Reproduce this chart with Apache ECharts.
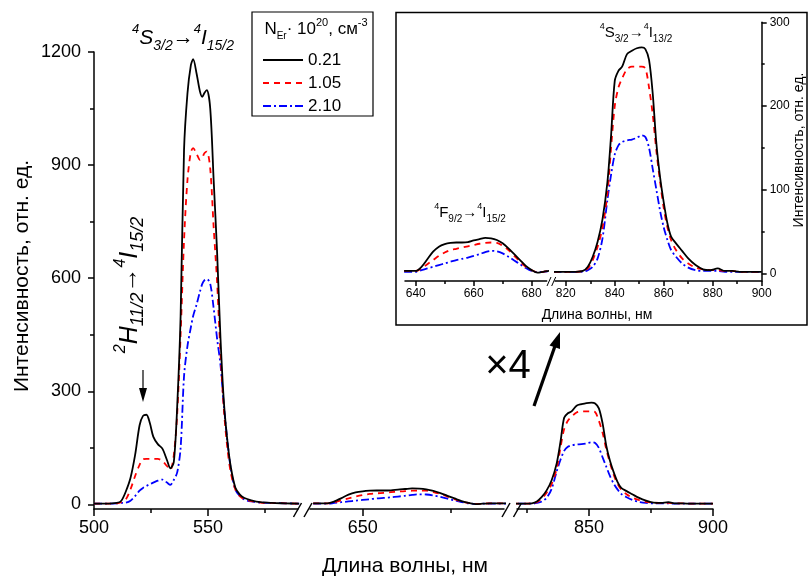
<!DOCTYPE html>
<html lang="ru">
<head>
<meta charset="UTF-8">
<title>Спектры люминесценции Er</title>
<script src="https://cdn.jsdelivr.net/npm/echarts@6.0.0/dist/echarts.min.js"></script>
<style>
    html, body { margin: 0; padding: 0; background: #fff; }
    #main { width: 810px; height: 582px; }
</style>
</head>
<body>
<div id="main"></div>
<script>
    // концентрации Er, 10^20 см^-3
    var seriesNames = ['0.21', '1.05', '2.10'];

    // участок 500-590 нм
    var wlA = [500, 505, 510, 512, 514, 516, 518, 520, 521.5, 523, 524.5, 526, 528, 530, 532, 533.5, 535, 536.5, 538, 539.5,
        541, 542.5, 543.5, 545, 546.5, 547.5, 548.5, 549.5, 551, 552.5, 554, 555.5, 557, 558.5, 560, 562, 564, 566, 569, 573, 578, 584, 590];
    var blackA = [2, 2, 4, 10, 35, 70, 130, 210, 235, 238, 216, 180, 160, 148, 118, 96, 112, 260, 500, 940,
        1090, 1165, 1181, 1143, 1095, 1081, 1092, 1099, 1050, 860, 670, 440, 270, 170, 100, 45, 26, 17, 11, 6, 4, 3, 2];
    var redA = [2, 2, 3, 6, 14, 40, 75, 105, 120, 121, 121, 121, 121, 115, 102, 92, 130, 240, 450, 700,
        860, 935, 945, 930, 914, 920, 932, 936, 890, 735, 590, 400, 250, 150, 85, 40, 22, 14, 9, 5, 4, 3, 2];
    var blueA = [2, 2, 3, 4, 5, 10, 22, 37, 44, 49, 54, 58, 63, 66, 58, 52, 65, 85, 150, 340,
        420, 470, 500, 530, 565, 585, 595, 598, 585, 520, 440, 370, 260, 170, 95, 40, 22, 13, 8, 5, 4, 3, 2];

    // участок 636-692 нм (4F9/2 -> 4I15/2)
    var wlB = [636, 638, 640, 642, 644, 646, 648, 650, 652, 654, 656, 658, 660, 662, 664, 666, 668, 670, 672, 674,
        676, 678, 680, 682, 684, 686, 688, 690, 692];
    var blackB = [3, 3, 3, 8, 17, 26, 32, 35, 36.5, 37, 37, 37.5, 39.5, 41, 42.5, 42, 40, 36, 30, 23,
        16, 9, 4, 1, 2, 3, 3, 3, 3];
    var redB = [3, 3, 3, 6, 11, 16, 21, 25, 28, 29.5, 31, 32.5, 34, 35.5, 36.5, 37, 36.5, 33, 28, 21,
        14, 8, 4, 1.5, 2, 3, 3, 3, 3];
    var blueB = [2, 2, 2, 4, 6, 8, 10, 12, 14, 16, 17.5, 19, 21, 23, 25.5, 27, 26.5, 24, 20, 15.5,
        11, 6.5, 3, 1.5, 2, 2.5, 2.5, 2.5, 2.5];

    // участок 815-900 нм (4S3/2 -> 4I13/2)
    var wlC = [815, 818, 821, 824, 827, 829, 831, 833, 835, 837, 838.5, 840, 841.5, 843, 845, 847, 849, 851, 852.5, 854,
        855.5, 857, 858.5, 860, 861.5, 863, 865, 867.5, 870, 873, 876, 879, 882, 885, 888, 891, 895, 900];
    var blackC = [2, 2, 2, 2, 3, 8, 20, 38, 65, 109, 165, 230, 242, 247, 262, 266, 269, 270, 268, 255,
        215, 155, 115, 85, 60, 44, 36, 27, 18, 10, 5, 4, 6, 3, 3, 2, 2, 2];
    var redC = [2, 2, 2, 2, 3, 6, 16, 32, 55, 95, 150, 200, 222, 233, 244, 247, 247, 247, 245, 222,
        190, 146, 110, 78, 55, 40, 28, 18, 12, 7, 5, 4, 4, 3, 3, 2, 2, 2];
    var blueC = [2, 2, 2, 2, 2, 4, 8, 18, 42, 88, 118, 142, 153, 157, 159, 160, 162, 165, 163, 150,
        125, 100, 75, 55, 40, 28, 20, 12, 7, 4, 3, 3, 3, 2, 2, 2, 2, 2];

    // подписи осей
    var mainYLabels = [0, 300, 600, 900, 1200];
    var mainYMinor = [150, 450, 750, 1050];
    var mainXLabelsA = [500, 550];
    var mainXMinorA = [525, 575];
    var mainXLabelsB = [650];
    var mainXMinorB = [675];
    var mainXLabelsC = [850, 900];
    var mainXMinorC = [825, 875];
    var insetYLabels = [0, 100, 200, 300];
    var insetYMinor = [50, 150, 250];
    var insetXLabelsB = [640, 660, 680];
    var insetXMinorB = [650, 670];
    var insetXLabelsC = [820, 840, 860, 880, 900];
    var insetXMinorC = [830, 850, 870, 890];

    var font = 'Liberation Sans, Arial, sans-serif';

    var myChart = echarts.init(document.getElementById('main'));

    function pairs(xs, ys) {
        return xs.map(function (x, i) { return [x, ys[i]]; });
    }

    function plain(v) {
        return String(v);
    }

    var lineStyles = [
        {color: '#000000', width: 1.8, type: 'solid'},
        {color: '#ff0000', width: 1.8, type: [6, 5]},
        {color: '#0000ff', width: 1.8, type: [8, 3, 2, 3]}
    ];

    function xAx(grid, min, max, vals, len, fs, showLine) {
        return {
            type: 'value', gridIndex: grid, min: min, max: max, position: 'bottom',
            axisLine: {show: showLine, onZero: false, lineStyle: {color: '#000', width: 1.5}},
            axisTick: {show: true, length: len, customValues: vals, lineStyle: {color: '#000', width: 1.5}},
            axisLabel: {show: showLine, customValues: vals, formatter: plain, color: '#000', fontSize: fs, fontFamily: font, margin: fs > 14 ? 10 : 7},
            splitLine: {show: false}
        };
    }

    function yAx(grid, min, max, vals, len, fs, showLine, pos, show) {
        return {
            type: 'value', gridIndex: grid, min: min, max: max, position: pos, show: show,
            axisLine: {show: showLine, onZero: false, lineStyle: {color: '#000', width: 1.5}},
            axisTick: {show: true, length: len, customValues: vals, lineStyle: {color: '#000', width: 1.5}},
            axisLabel: {show: showLine, customValues: vals, formatter: plain, color: '#000', fontSize: fs, fontFamily: font, margin: fs > 14 ? 13 : 8},
            splitLine: {show: false}
        };
    }

    var xAxes = [
        xAx(0, 500, 589.5, mainXLabelsA, 7, 18, true),
        xAx(0, 500, 589.5, mainXMinorA, 4, 18, false),
        xAx(1, 635.1, 690, mainXLabelsB, 7, 18, true),
        xAx(1, 635.1, 690, mainXMinorB, 4, 18, false),
        xAx(2, 821, 900, mainXLabelsC, 7, 18, true),
        xAx(2, 821, 900, mainXMinorC, 4, 18, false),
        xAx(3, 636.3, 685.2, insetXLabelsB, 5, 12, true),
        xAx(3, 636.3, 685.2, insetXMinorB, 3, 12, false),
        xAx(4, 815.6, 900, insetXLabelsC, 5, 12, true),
        xAx(4, 815.6, 900, insetXMinorC, 3, 12, false)
    ];

    var yAxes = [
        yAx(0, -12, 1200, mainYLabels, 6, 18, true, 'left', true),
        yAx(0, -12, 1200, mainYMinor, 4, 18, false, 'left', true),
        yAx(1, -12, 1200, [], 0, 18, false, 'left', false),
        yAx(2, -12, 1200, [], 0, 18, false, 'left', false),
        yAx(3, -9, 300, [], 0, 12, false, 'left', false),
        yAx(4, -9, 300, insetYLabels, 5, 12, true, 'right', true),
        yAx(4, -9, 300, insetYMinor, 3, 12, false, 'right', true)
    ];

    var groups = [
        {x: 0, y: 0, wl: wlA, data: [blackA, redA, blueA]},
        {x: 2, y: 2, wl: wlB, data: [blackB, redB, blueB]},
        {x: 4, y: 3, wl: wlC, data: [blackC, redC, blueC]},
        {x: 6, y: 4, wl: wlB, data: [blackB, redB, blueB]},
        {x: 8, y: 5, wl: wlC, data: [blackC, redC, blueC]}
    ];

    var series = [];
    groups.forEach(function (g) {
        g.data.forEach(function (ys, k) {
            series.push({
                name: seriesNames[k],
                type: 'line',
                xAxisIndex: g.x,
                yAxisIndex: g.y,
                data: pairs(g.wl, ys),
                symbol: 'none',
                smooth: 0.3,
                lineStyle: lineStyles[k],
                itemStyle: {color: lineStyles[k].color},
                z: 3 - k
            });
        });
    });

    // подписи с индексами
    var richMain = {
        m: {fontSize: 21, fontStyle: 'italic', fontFamily: font, lineHeight: 30, fill: '#000'},
        a: {fontSize: 21, fontFamily: font, lineHeight: 30, fill: '#000'},
        sup: {fontSize: 13, fontStyle: 'italic', fontFamily: font, lineHeight: 14, verticalAlign: 'top', fill: '#000'},
        sub: {fontSize: 14, fontStyle: 'italic', fontFamily: font, lineHeight: 14, verticalAlign: 'bottom', fill: '#000'}
    };
    var richSide = {
        m: {fontSize: 25, fontStyle: 'italic', fontFamily: font, lineHeight: 34, fill: '#000'},
        a: {fontSize: 25, fontFamily: font, lineHeight: 34, fill: '#000'},
        sup: {fontSize: 16, fontStyle: 'italic', fontFamily: font, lineHeight: 16, verticalAlign: 'top', fill: '#000'},
        sub: {fontSize: 18, fontStyle: 'italic', fontFamily: font, lineHeight: 17, verticalAlign: 'bottom', fill: '#000'}
    };
    var richInset = {
        m: {fontSize: 15, fontFamily: font, lineHeight: 22, fill: '#000'},
        sup: {fontSize: 9, fontFamily: font, lineHeight: 10, verticalAlign: 'top', fill: '#000'},
        sub: {fontSize: 10, fontFamily: font, lineHeight: 10, verticalAlign: 'bottom', fill: '#000'}
    };
    var richLegend = {
        m: {fontSize: 17, fontFamily: font, lineHeight: 24, fill: '#000'},
        sup: {fontSize: 11, fontFamily: font, lineHeight: 11, verticalAlign: 'top', fill: '#000'},
        sub: {fontSize: 10, fontFamily: font, lineHeight: 10, verticalAlign: 'bottom', fill: '#000'}
    };

    function slash(x, y) {
        return {type: 'line', shape: {x1: x - 4, y1: y + 7, x2: x + 4, y2: y - 7}, style: {stroke: '#000', lineWidth: 1.5}, z: 10};
    }
    function slashSmall(x, y) {
        return {type: 'line', shape: {x1: x - 2, y1: y + 4.5, x2: x + 2, y2: y - 4.5}, style: {stroke: '#000', lineWidth: 1}, z: 10};
    }

    var option = {
        animation: false,
        grid: [
            {left: 94, top: 52, width: 204, height: 457},
            {left: 310, top: 52, width: 194, height: 457},
            {left: 517, top: 52, width: 196, height: 457},
            {left: 405, top: 22.3, width: 141.7, height: 258.7},
            {left: 555, top: 22.3, width: 206.7, height: 258.7}
        ],
        xAxis: xAxes,
        yAxis: yAxes,
        legend: {
            data: seriesNames,
            orient: 'vertical',
            left: 262,
            top: 51,
            padding: 0,
            itemWidth: 40,
            itemHeight: 12,
            itemGap: 5,
            selectedMode: false,
            itemStyle: {opacity: 0},
            textStyle: {fontSize: 17, color: '#000', fontFamily: font, lineHeight: 18}
        },
        graphic: [
            // названия осей
            {type: 'text', x: 405, y: 566, style: {text: 'Длина волны, нм', fontSize: 21, fontFamily: font, fill: '#000', align: 'center', verticalAlign: 'middle'}},
            {type: 'text', x: 22, y: 276, rotation: Math.PI / 2, style: {text: 'Интенсивность, отн. ед.', fontSize: 21, fontFamily: font, fill: '#000', align: 'center', verticalAlign: 'middle'}},
            {type: 'text', x: 597, y: 315, style: {text: 'Длина волны, нм', fontSize: 14, fontFamily: font, fill: '#000', align: 'center', verticalAlign: 'middle'}},
            {type: 'text', x: 799, y: 150, rotation: Math.PI / 2, style: {text: 'Интенсивность, отн. ед.', fontSize: 14, fontFamily: font, fill: '#000', align: 'center', verticalAlign: 'middle'}},
            // разрывы оси
            slash(297.5, 510), slash(308, 510), slash(506, 510), slash(517.5, 510),
            slashSmall(549, 281.5), slashSmall(553.7, 281.5),
            // рамки вставки и легенды
            {type: 'rect', shape: {x: 396, y: 12.5, width: 411, height: 312.5}, style: {fill: 'none', stroke: '#000', lineWidth: 1.5}},
            {type: 'rect', shape: {x: 252, y: 12, width: 121, height: 104}, style: {fill: 'none', stroke: '#000', lineWidth: 1.2}},
            {type: 'text', x: 316, y: 29, style: {text: '{m|N}{sub|Er}{m|· 10}{sup|20}{m|, см}{sup|-3}', rich: richLegend, align: 'center', verticalAlign: 'middle'}},
            // переходы
            {type: 'text', x: 183, y: 38, style: {text: '{sup|4}{m|S}{sub|3/2}{a|→}{sup|4}{m|I}{sub|15/2}', rich: richMain, align: 'center', verticalAlign: 'middle'}},
            {type: 'text', x: 130, y: 285, rotation: Math.PI / 2, style: {text: '{sup|2}{m|H}{sub|11/2}{a|→}{sup|4}{m|I}{sub|15/2}', rich: richSide, align: 'center', verticalAlign: 'middle'}},
            {type: 'text', x: 636, y: 33, style: {text: '{sup|4}{m|S}{sub|3/2}{m|→}{sup|4}{m|I}{sub|13/2}', rich: richInset, align: 'center', verticalAlign: 'middle'}},
            {type: 'text', x: 470, y: 213, style: {text: '{sup|4}{m|F}{sub|9/2}{m|→}{sup|4}{m|I}{sub|15/2}', rich: richInset, align: 'center', verticalAlign: 'middle'}},
            // стрелки
            {type: 'line', shape: {x1: 143, y1: 370, x2: 143, y2: 392}, style: {stroke: '#000', lineWidth: 1.2}},
            {type: 'polygon', shape: {points: [[139, 388], [147, 388], [143, 402]]}, style: {fill: '#000'}},
            {type: 'text', x: 508, y: 367, style: {text: '×4', fontSize: 40, fontFamily: font, fill: '#000', align: 'center', verticalAlign: 'middle'}},
            {type: 'line', shape: {x1: 534, y1: 406, x2: 555, y2: 346}, style: {stroke: '#000', lineWidth: 3.2}},
            {type: 'polygon', shape: {points: [[560, 332], [560, 349], [549.5, 345.5]]}, style: {fill: '#000'}}
        ],
        series: series
    };

    myChart.setOption(option);
</script>
</body>
</html>
